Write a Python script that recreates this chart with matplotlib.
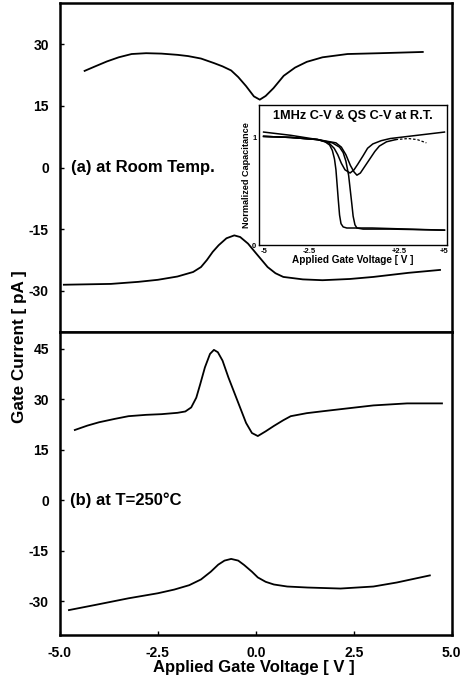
import matplotlib
matplotlib.use("Agg")
import matplotlib.pyplot as plt

plt.rcParams['font.family'] = ['Liberation Sans', 'DejaVu Sans']
plt.rcParams['font.weight'] = 'bold'
plt.rcParams['axes.unicode_minus'] = False

# (a) room temperature, gate current [pA] vs gate voltage [V]
a_up_v = [-4.37, -4.1, -3.8, -3.5, -3.17, -2.8, -2.41, -2.0, -1.73, -1.4, -1.07, -0.85, -0.63, -0.45, -0.25,
          -0.05, 0.1, 0.25, 0.45, 0.71, 1.0, 1.3, 1.7, 2.34, 3.17, 4.26]
a_up_i = [23.5, 24.6, 25.8, 26.8, 27.6, 27.8, 27.7, 27.4, 27.1, 26.5, 25.4, 24.6, 23.6, 22.0, 19.8,
          17.3, 16.5, 17.4, 19.3, 22.3, 24.3, 25.7, 26.8, 27.6, 27.8, 28.1]
a_dn_v = [-4.9, -4.3, -3.7, -3.0, -2.5, -2.0, -1.6, -1.4, -1.25, -1.1, -0.95, -0.75, -0.55, -0.4, -0.2,
          0.0, 0.3, 0.5, 0.7, 1.2, 1.7, 2.4, 3.0, 3.9, 4.7]
a_dn_i = [-28.5, -28.4, -28.3, -27.8, -27.3, -26.5, -25.4, -24.2, -22.5, -20.5, -18.9, -17.2, -16.5, -16.9, -18.5,
          -20.8, -24.2, -25.7, -26.6, -27.2, -27.4, -27.1, -26.6, -25.6, -24.9]

# (b) T = 250 C
b_up_v = [-4.62, -4.3, -4.0, -3.6, -3.25, -2.8, -2.41, -2.0, -1.8, -1.65, -1.52, -1.42, -1.3, -1.17, -1.07,
          -0.97, -0.85, -0.7, -0.55, -0.4, -0.25, -0.1, 0.05, 0.25, 0.46, 0.7, 0.89, 1.3, 1.73, 2.4, 3.0, 3.86, 4.75]
b_up_i = [20.9, 22.2, 23.2, 24.2, 25.0, 25.4, 25.6, 26.0, 26.4, 27.6, 30.5, 34.5, 39.5, 43.5, 44.7,
          44.0, 41.5, 36.5, 32.0, 27.5, 23.0, 20.0, 19.1, 20.5, 22.1, 23.8, 25.0, 25.9, 26.5, 27.4, 28.2, 28.8, 28.8]
b_dn_v = [-4.77, -4.11, -3.25, -2.5, -2.08, -1.7, -1.4, -1.15, -0.96, -0.8, -0.63, -0.45, -0.3, -0.1, 0.05,
          0.25, 0.46, 0.8, 1.32, 2.16, 3.0, 3.6, 4.44]
b_dn_i = [-32.6, -31.1, -29.1, -27.6, -26.5, -25.2, -23.5, -21.2, -19.1, -17.9, -17.4, -17.9, -19.2, -21.2, -22.9,
          -24.2, -25.0, -25.6, -25.9, -26.2, -25.6, -24.4, -22.3]

# inset: normalized capacitance, 1MHz C-V and QS C-V
hfa_v = [-5.0, -3.5, -2.0, -1.6, -1.35, -1.2, -1.08, -1.0, -0.93, -0.87, -0.8, -0.72, -0.6, -0.4, 1.0, 3.0, 5.0]
hfa_c = [1.01, 1.0, 0.98, 0.96, 0.93, 0.88, 0.8, 0.7, 0.55, 0.42, 0.28, 0.2, 0.17, 0.16, 0.16, 0.15, 0.14]
hfb_v = [-5.0, -3.5, -2.0, -1.2, -0.8, -0.6, -0.45, -0.3, -0.2, -0.12, -0.05, 0.05, 0.16, 0.5, 2.0, 5.0]
hfb_c = [1.01, 1.0, 0.98, 0.95, 0.91, 0.86, 0.78, 0.65, 0.5, 0.38, 0.27, 0.19, 0.16, 0.15, 0.15, 0.14]
qsa_v = [-5.0, -3.5, -2.0, -1.4, -1.1, -0.9, -0.7, -0.5, -0.22, 0.0, 0.2, 0.5, 0.75, 1.04, 1.5, 2.0, 3.0, 4.0, 5.0]
qsa_c = [1.05, 1.02, 0.98, 0.95, 0.9, 0.84, 0.76, 0.7, 0.67, 0.7, 0.75, 0.83, 0.9, 0.94, 0.97, 0.99, 1.01, 1.03, 1.05]
qsb_v = [-5.0, -3.5, -2.0, -1.0, -0.7, -0.45, -0.2, 0.0, 0.16, 0.35, 0.55, 0.87, 1.15, 1.4, 1.8, 2.3, 3.0, 3.5, 4.0]
qsb_c = [1.01, 1.0, 0.98, 0.95, 0.91, 0.84, 0.74, 0.68, 0.65, 0.67, 0.72, 0.8, 0.87, 0.92, 0.96, 0.98, 0.99, 0.98, 0.95]

fig = plt.figure(figsize=(4.61, 6.87), dpi=100)
L, W = 0.130, 0.850
ax1 = fig.add_axes([L, 0.5167, W, 0.4789])
ax2 = fig.add_axes([L, 0.0757, W, 0.4410])

for ax in (ax1, ax2):
    for s in ax.spines.values():
        s.set_linewidth(1.8)
    ax.set_xlim(-5, 5)
    ax.tick_params(direction='in', length=3, width=1, labelsize=10, pad=8)

ax1.plot(a_up_v, a_up_i, color='black', lw=1.3)
ax1.plot(a_dn_v, a_dn_i, color='black', lw=1.3)
ax1.set_ylim(-40, 40)
ax1.set_yticks([30, 15, 0, -15, -30])
ax1.set_xticks([])
ax1.text(-4.72, 0, '(a) at Room Temp.', fontsize=12, fontweight='bold', va='center')

ax2.plot(b_up_v, b_up_i, color='black', lw=1.3)
ax2.plot(b_dn_v, b_dn_i, color='black', lw=1.3)
ax2.set_ylim(-40, 50)
ax2.set_yticks([45, 30, 15, 0, -15, -30])
ax2.set_xticks([-5.0, -2.5, 0.0, 2.5, 5.0])
ax2.set_xticklabels(['-5.0', '-2.5', '0.0', '2.5', '5.0'])
ax2.text(-4.75, 0, '(b) at T=250°C', fontsize=12, fontweight='bold', va='center')

fig.text(0.551, 0.028, 'Applied Gate Voltage [ V ]', ha='center', va='center', fontsize=12, fontweight='bold')
fig.text(0.043, 0.496, 'Gate Current [ pA ]', ha='center', va='center', rotation=90, fontsize=12.3, fontweight='bold')

# inset
ins = fig.add_axes([0.562, 0.643, 0.408, 0.204])
ins.plot(hfa_v, hfa_c, color='black', lw=1.1)
ins.plot(hfb_v, hfb_c, color='black', lw=1.1)
ins.plot(qsa_v, qsa_c, color='black', lw=1.1)
ins.plot(qsb_v[:16], qsb_c[:16], color='black', lw=1.1)
ins.plot(qsb_v[15:], qsb_c[15:], color='black', lw=0.9, ls=(0, (2, 1.5)))
ins.set_xlim(-5.25, 5.15)
ins.set_ylim(0, 1.3)
ins.set_xticks([-5, -2.5, 2.5, 5])
ins.set_xticklabels(['-5', '-2.5', '+2.5', '+5'])
ins.set_yticks([0, 1])
ins.tick_params(direction='in', length=0, labelsize=5.5, pad=2)
for s in ins.spines.values():
    s.set_linewidth(1.0)
ins.text(0.5, 0.92, '1MHz C-V & QS C-V at R.T.', transform=ins.transAxes, ha='center', va='center',
         fontsize=9.2, fontweight='bold')
ins.set_xlabel('Applied Gate Voltage [ V ]', fontsize=7.2, fontweight='bold', labelpad=0)
ins.set_ylabel('Normalized Capacitance', fontsize=6.6, fontweight='bold', labelpad=1)

fig.savefig('out.png', dpi=100)
